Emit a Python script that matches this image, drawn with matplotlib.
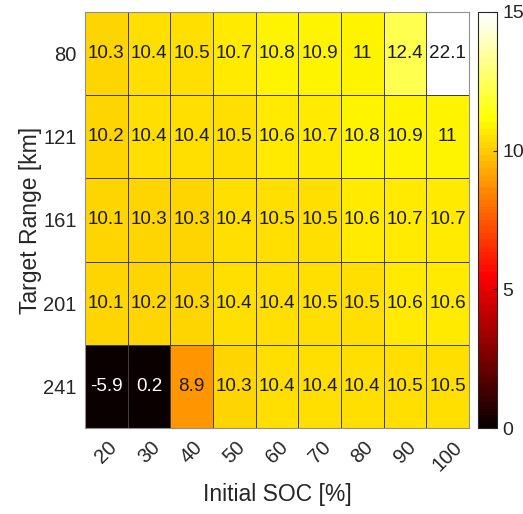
import numpy as np
import matplotlib.pyplot as plt
from matplotlib.colors import ListedColormap

plt.rcParams['font.family'] = ['Liberation Sans', 'DejaVu Sans']

soc = [20, 30, 40, 50, 60, 70, 80, 90, 100]
target_range = [80, 121, 161, 201, 241]

row_80 = [10.3, 10.4, 10.5, 10.7, 10.8, 10.9, 11, 12.4, 22.1]
row_121 = [10.2, 10.4, 10.4, 10.5, 10.6, 10.7, 10.8, 10.9, 11]
row_161 = [10.1, 10.3, 10.3, 10.4, 10.5, 10.5, 10.6, 10.7, 10.7]
row_201 = [10.1, 10.2, 10.3, 10.4, 10.4, 10.5, 10.5, 10.6, 10.6]
row_241 = [-5.9, 0.2, 8.9, 10.3, 10.4, 10.4, 10.4, 10.5, 10.5]

vals = np.array([row_80, row_121, row_161, row_201, row_241])

# 64-level "hot" map, same construction as MATLAB's hot(64)
m = 64
n = 3 * m // 8
r = np.r_[np.arange(1, n + 1) / n, np.ones(m - n)]
g = np.r_[np.zeros(n), np.arange(1, n + 1) / n, np.ones(m - 2 * n)]
b = np.r_[np.zeros(2 * n), np.arange(1, m - 2 * n + 1) / (m - 2 * n)]
hot64 = ListedColormap(np.c_[r, g, b])

fig = plt.figure(figsize=(5.23, 5.14), dpi=100)
ax = fig.add_axes([0.1625, 0.1673, 0.734, 0.8094])
cax = fig.add_axes([0.914, 0.1673, 0.036, 0.8094])

mesh = ax.pcolormesh(vals, cmap=hot64, vmin=0, vmax=15,
                     edgecolors='#404040', linewidth=0.6)
ax.set_xlim(0, len(soc))
ax.set_ylim(len(target_range), 0)

for i in range(len(target_range)):
    for j in range(len(soc)):
        v = vals[i, j]
        color = 'white' if v < 3 else '#1a1a1a'
        ax.text(j + 0.5, i + 0.5, f'{v:g}', ha='center', va='center',
                fontsize=13.6, color=color)

ax.set_xticks(np.arange(len(soc)) + 0.5)
ax.set_xticklabels(soc, rotation=45, ha='center', va='top')
ax.set_yticks(np.arange(len(target_range)) + 0.5)
ax.set_yticklabels(target_range)
ax.tick_params(length=0, labelsize=14.5, colors='#262626', pad=6)
ax.tick_params(axis='x', pad=7)
ax.set_xlabel('Initial SOC [%]', fontsize=16.5, color='#262626', labelpad=6)
ax.set_ylabel('Target Range [km]', fontsize=16.5, color='#262626', labelpad=1)
for s in ax.spines.values():
    s.set_color('#909090')

cb = fig.colorbar(mesh, cax=cax)
cb.set_ticks([0, 5, 10, 15])
cb.outline.set_edgecolor('#262626')
cb.outline.set_linewidth(0.8)
cax.tick_params(direction='in', length=3, labelsize=14, colors='#262626', pad=4)

fig.savefig('out.png', dpi=100)
